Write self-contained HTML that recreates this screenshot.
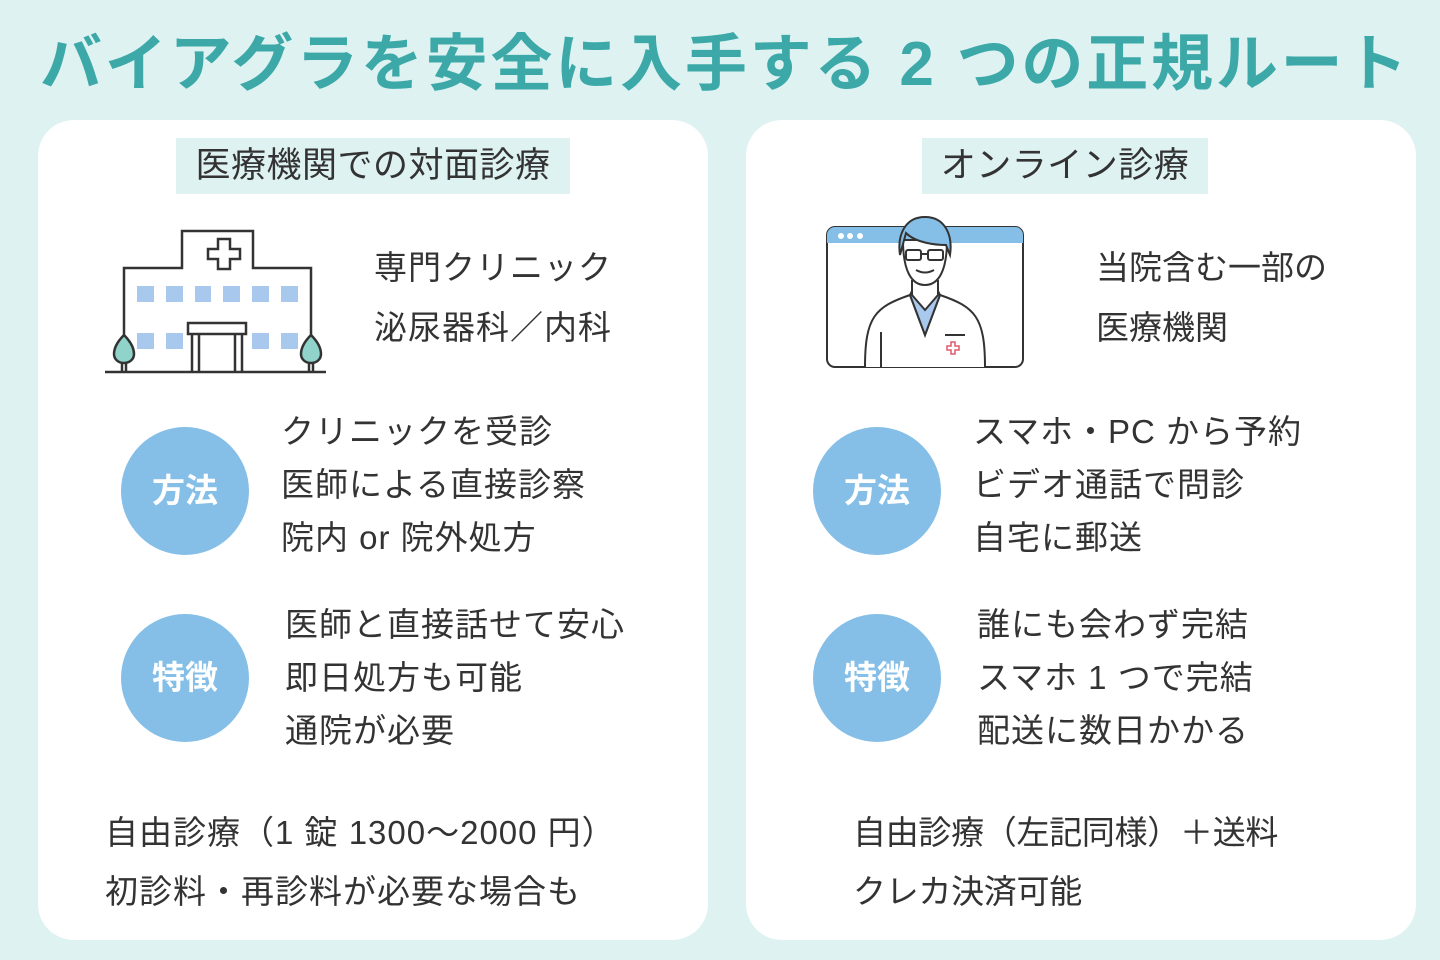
<!DOCTYPE html>
<html><head><meta charset="utf-8">
<style>
*{margin:0;padding:0;box-sizing:border-box}
body{width:1440px;height:960px;background:#dff2f2;position:relative;overflow:hidden;font-family:"Liberation Sans","Noto Sans CJK JP",sans-serif;color:#333}
.t{position:absolute;white-space:nowrap}
h1{position:absolute;left:40px;top:22px;font-size:62px;font-weight:bold;color:#3ca9a8;white-space:nowrap;letter-spacing:2.8px;line-height:86px}
.card{position:absolute;top:120px;width:670px;height:820px;background:#fff;border-radius:36px}
.lab{position:absolute;top:138px;height:56px;background:#dff2f2;font-size:35px;line-height:56px;text-align:center;color:#333;letter-spacing:0.5px}
.c{position:absolute;width:128px;height:128px;border-radius:50%;background:#85bfe7;color:#fff;font-size:33px;font-weight:bold;line-height:128px;text-align:center}
.b{font-size:33px;line-height:53px;letter-spacing:1px}
</style></head><body>
<h1>バイアグラを安全に入手する 2 つの正規ルート</h1>
<div class="card" style="left:38px"></div>
<div class="card" style="left:746px"></div>
<div class="lab" style="left:176px;width:394px">医療機関での対面診療</div>
<div class="lab" style="left:922px;width:286px">オンライン診療</div>

<svg style="position:absolute;left:100px;top:220px" width="240" height="160" viewBox="0 0 240 160">
<g fill="none" stroke="#333" stroke-width="2.5">
<path d="M24 120V48H82V11H153V48H211V120"/>
<path d="M108 29h10v-10h12v10h10v10h-10v10h-12v-10h-10z"/>
<rect x="88" y="103" width="58" height="11"/>
<path d="M92 114V152M99 114V152M135 114V152M142 114V152"/>
<path d="M5 152H226"/>
</g>
<g fill="#a9c8ee">
<rect x="37" y="66" width="17" height="16"/><rect x="66" y="66" width="17" height="16"/><rect x="95" y="66" width="16" height="16"/><rect x="123" y="66" width="17" height="16"/><rect x="152" y="66" width="17" height="16"/><rect x="181" y="66" width="17" height="16"/>
<rect x="37" y="113" width="17" height="16"/><rect x="66" y="113" width="17" height="16"/><rect x="152" y="113" width="17" height="16"/><rect x="181" y="113" width="17" height="16"/>
</g>
<g stroke="#333" stroke-width="2.5"><path d="M22 140v12M26 140v12M209 140v12M213 140v12"/>
<path fill="#8fd3ca" d="M24 115c-6 6-10 12-10 19 0 5 4 9 10 9s10-4 10-9c0-7-4-13-10-19z"/>
<path fill="#8fd3ca" d="M211 115c-6 6-10 12-10 19 0 5 4 9 10 9s10-4 10-9c0-7-4-13-10-19z"/></g>
</svg>

<svg style="position:absolute;left:820px;top:210px" width="210" height="165" viewBox="0 0 210 165">
<rect x="7" y="17" width="196" height="140" rx="8" fill="#fff" stroke="#333" stroke-width="2"/>
<path d="M7 33V25a8 8 0 0 1 8-8h180a8 8 0 0 1 8 8v8z" fill="#85bfe7"/>
<circle cx="21" cy="26" r="3" fill="#fff"/><circle cx="30" cy="26" r="3" fill="#fff"/><circle cx="40" cy="26" r="3" fill="#fff"/>
<g stroke="#333" stroke-width="2">
<path d="M45 157c0-50 10-60 45-72l15 40 15-40c35 12 45 22 45 72" fill="#fff"/>
<path d="M90 85l15 40 15-40l-5-10h-20z" fill="#a9c8ee"/>
<path d="M92 70v15l13 15 13-15V70" fill="#fff"/>
<path d="M83 30c0 30 8 45 22 45s22-15 22-45z" fill="#fff"/>
<path d="M80 45c-3-20 5-38 25-38s28 18 25 38l-4-10c-10 0-30-2-40-12z" fill="#85bfe7"/>
<rect x="86" y="40" width="15" height="10" rx="2" fill="none"/><rect x="108" y="40" width="15" height="10" rx="2" fill="none"/>
<path d="M101 44h7M96 60q9 5 18 0" fill="none"/>
<path d="M61 122v35M125 125h20" fill="none"/>
</g>
<path d="M131 132h4v4h4v4h-4v4h-4v-4h-4v-4h4z" fill="none" stroke="#e05a6a" stroke-width="1.5"/>
</svg>

<div class="t b" style="left:374px;top:238px;line-height:60px">専門クリニック<br>泌尿器科／内科</div>
<div class="t b" style="left:1096px;top:238px;line-height:60px;letter-spacing:0">当院含む一部の<br>医療機関</div>

<div class="c" style="left:121px;top:427px">方法</div>
<div class="c" style="left:121px;top:614px">特徴</div>
<div class="c" style="left:813px;top:427px">方法</div>
<div class="c" style="left:813px;top:614px">特徴</div>

<div class="t b" style="left:281px;top:405px">クリニックを受診<br>医師による直接診察<br>院内 or 院外処方</div>
<div class="t b" style="left:285px;top:598px">医師と直接話せて安心<br>即日処方も可能<br>通院が必要</div>
<div class="t b" style="left:973px;top:405px">スマホ・PC から予約<br>ビデオ通話で問診<br>自宅に郵送</div>
<div class="t b" style="left:977px;top:598px">誰にも会わず完結<br>スマホ 1 つで完結<br>配送に数日かかる</div>

<div class="t b" style="left:105px;top:803px;line-height:59px">自由診療（1 錠 1300〜2000 円）<br>初診料・再診料が必要な場合も</div>
<div class="t b" style="left:853px;top:803px;line-height:59px;letter-spacing:-0.3px">自由診療（左記同様）＋送料<br>クレカ決済可能</div>
</body></html>
